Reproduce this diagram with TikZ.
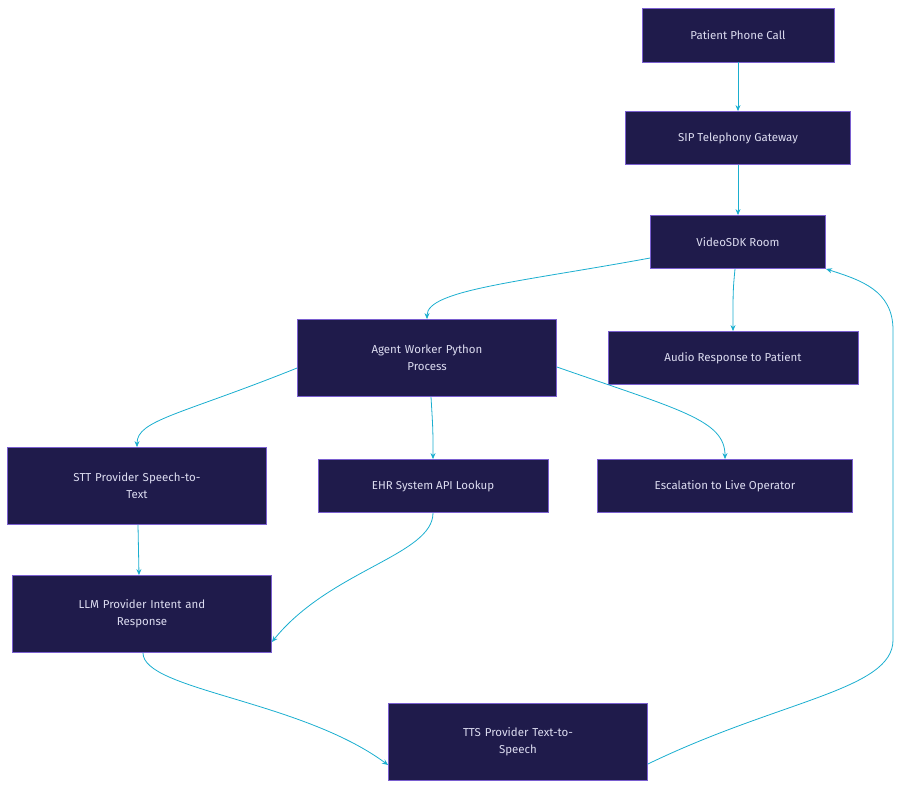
\documentclass[tikz,border=0pt]{standalone}
\usepackage{fontspec}
\setmainfont{Fira Sans}
\usetikzlibrary{arrows.meta}
\definecolor{boxfill}{HTML}{1F1B4B}
\definecolor{boxline}{HTML}{7A5FD0}
\definecolor{txt}{HTML}{DCDCF0}
\definecolor{arr}{HTML}{1AAECF}
\begin{document}
\begin{tikzpicture}[x=1pt,y=-1pt,
  box/.style={draw=boxline,fill=boxfill,text=txt,font=\fontsize{11.5}{17}\selectfont,align=center,inner sep=0pt,line width=0.8pt},
  con/.style={draw=arr,line width=0.8pt,-{Stealth[length=6pt,width=5pt]}}]
\useasboundingbox (0,0) rectangle (902,790);
\node[box,minimum width=192,minimum height=54] (call) at (738,35) {Patient Phone Call};
\node[box,minimum width=225,minimum height=53] (sip) at (738,138) {SIP Telephony Gateway};
\node[box,minimum width=175,minimum height=53] (room) at (738,242) {VideoSDK Room};
\node[box,minimum width=259,minimum height=77,text width=200] (agent) at (427,358) {Agent Worker Python\\Process};
\node[box,minimum width=250,minimum height=53] (audio) at (733,358) {Audio Response to Patient};
\node[box,minimum width=259,minimum height=77,text width=200] (stt) at (137,486) {STT Provider Speech-to-\\Text};
\node[box,minimum width=230,minimum height=53] (ehr) at (433,486) {EHR System API Lookup};
\node[box,minimum width=255,minimum height=53] (esc) at (725,486) {Escalation to Live Operator};
\node[box,minimum width=259,minimum height=77,text width=200] (llm) at (142,614) {LLM Provider Intent and\\Response};
\node[box,minimum width=259,minimum height=77,text width=200] (tts) at (518,742) {TTS Provider Text-to-\\Speech};
\draw[con] (call) -- (sip);
\draw[con] (sip) -- (room);
\draw[con] ([yshift=-16]room.west) .. controls (520,282) and (427,290) .. (agent.north);
\draw[con] ([xshift=-3]room.south) .. controls (733,290) .. (audio.north);
\draw[con] ([yshift=-10]agent.west) .. controls (180,415) and (137,420) .. (stt.north);
\draw[con] ([xshift=4]agent.south) .. controls (433,430) .. (ehr.north);
\draw[con] ([yshift=-9]agent.east) .. controls (680,410) and (725,420) .. (esc.north);
\draw[con] ([xshift=1]stt.south) -- ([xshift=-3]llm.north);
\draw[con] (ehr.south) .. controls (433,555) and (330,570) .. ([yshift=-28]llm.east);
\draw[con] ([xshift=1]llm.south) .. controls (143,690) and (300,700) .. ([yshift=-23]tts.west);
\draw[con] ([yshift=-22]tts.east) .. controls (780,700) and (893,690) .. (893,640)
  -- (893,330) .. controls (893,290) and (860,280) .. ([xshift=88]room.south);
\end{tikzpicture}
\end{document}
